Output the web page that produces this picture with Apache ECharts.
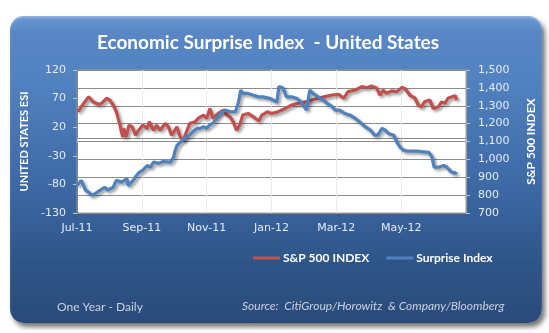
<!DOCTYPE html>
<html><head><meta charset="utf-8">
<script src="https://cdn.jsdelivr.net/npm/echarts@6/dist/echarts.min.js"></script>
<style>
html,body{margin:0;padding:0;background:#fff;}
#wrap{position:relative;width:549px;height:333px;overflow:hidden;background:#fff;}
#panel{position:absolute;left:10px;top:16px;width:532px;height:307px;border-radius:14px;
background:linear-gradient(to bottom,#6b98d1 0%,#5987c5 5%,#5282c0 20%,#4674b1 40%,#3a65a0 60%,#2f5588 80%,#2a4b7a 100%);
box-shadow:3px 4px 5px rgba(0,0,0,0.55), inset 0 2px 2px rgba(255,255,255,0.25);}
#chart{position:absolute;left:0;top:0;width:549px;height:333px;}
</style></head><body>
<div id="wrap"><div id="panel"></div><div id="chart"></div></div>
<script>
const startDate = '2011-07-01';
const monthLabels = ['Jul-11','Sep-11','Nov-11','Jan-12','Mar-12','May-12',''];

const spxDates = ['2011-07-02','2011-07-05','2011-07-12','2011-07-16','2011-07-21','2011-07-24','2011-07-29','2011-08-01','2011-08-04','2011-08-07',
'2011-08-10','2011-08-13','2011-08-14','2011-08-16','2011-08-19','2011-08-22','2011-08-25','2011-08-28','2011-09-01','2011-09-05',
'2011-09-07','2011-09-11','2011-09-14','2011-09-17','2011-09-22','2011-09-25','2011-09-28','2011-10-01','2011-10-03','2011-10-06',
'2011-10-09','2011-10-12','2011-10-15','2011-10-20','2011-10-23','2011-10-28','2011-10-31','2011-11-03','2011-11-06','2011-11-09',
'2011-11-13','2011-11-16','2011-11-19','2011-11-22','2011-11-25','2011-11-28','2011-12-01','2011-12-04','2011-12-09','2011-12-14',
'2011-12-19','2011-12-22','2011-12-27','2011-12-31','2012-01-06','2012-01-13','2012-01-19','2012-01-25','2012-02-01','2012-02-07',
'2012-02-13','2012-02-19','2012-02-26','2012-03-03','2012-03-08','2012-03-12','2012-03-19','2012-03-25','2012-03-30','2012-04-03',
'2012-04-08','2012-04-11','2012-04-14','2012-04-17','2012-04-22','2012-04-27','2012-05-02','2012-05-05','2012-05-09','2012-05-14',
'2012-05-17','2012-05-20','2012-05-23','2012-05-28','2012-05-31','2012-06-05','2012-06-08','2012-06-11','2012-06-14','2012-06-18',
'2012-06-21','2012-06-22'];
const spxValues = [1266,1294,1350,1322,1308,1313,1342,1332,1304,1266,
1201,1126,1173,1126,1192,1182,1135,1163,1192,1173,
1210,1163,1192,1163,1201,1182,1135,1163,1182,1126,
1107,1154,1201,1210,1229,1248,1229,1285,1229,1248,
1266,1276,1248,1238,1210,1163,1192,1248,1257,1238,
1214,1248,1266,1257,1266,1285,1304,1313,1322,1332,
1342,1351,1360,1364,1342,1379,1388,1407,1401,1411,
1398,1360,1388,1370,1383,1379,1403,1394,1360,1342,
1304,1294,1322,1332,1285,1294,1322,1313,1342,1351,
1356,1332];

const esiDates = ['2011-07-01','2011-07-05','2011-07-09','2011-07-12','2011-07-15','2011-07-18','2011-07-23','2011-07-27','2011-07-30','2011-08-04',
'2011-08-07','2011-08-12','2011-08-17','2011-08-18','2011-08-23','2011-08-26','2011-08-29','2011-09-01','2011-09-05','2011-09-08',
'2011-09-11','2011-09-16','2011-09-20','2011-09-27','2011-09-30','2011-10-01','2011-10-03','2011-10-08','2011-10-12','2011-10-15',
'2011-10-18','2011-10-22','2011-10-25','2011-10-28','2011-10-31','2011-11-03','2011-11-06','2011-11-09','2011-11-13','2011-11-17',
'2011-11-22','2011-11-27','2011-11-30','2011-12-02','2011-12-04','2011-12-09','2011-12-14','2011-12-19','2011-12-23','2011-12-30',
'2012-01-05','2012-01-07','2012-01-11','2012-01-14','2012-01-19','2012-01-24','2012-01-28','2012-02-02','2012-02-05','2012-02-08',
'2012-02-13','2012-02-18','2012-02-21','2012-02-26','2012-02-29','2012-03-04','2012-03-09','2012-03-14','2012-03-19','2012-03-23',
'2012-03-28','2012-04-02','2012-04-06','2012-04-09','2012-04-13','2012-04-16','2012-04-19','2012-04-24','2012-04-27','2012-04-30',
'2012-05-03','2012-05-08','2012-05-12','2012-05-17','2012-05-22','2012-05-27','2012-05-30','2012-06-01','2012-06-05','2012-06-10',
'2012-06-13','2012-06-17','2012-06-21','2012-06-22'];
const esiValues = [-82,-73,-90,-94,-99,-96,-90,-85,-90,-85,
-73,-76,-70,-82,-73,-64,-58,-55,-47,-50,
-41,-43,-40,-41,-32,-23,-12,-3,3,6,
12,18,18,21,18,24,27,35,44,50,
47,47,64,85,79,79,76,73,73,70,
64,91,88,73,73,70,64,50,85,79,
73,67,62,56,50,50,44,41,35,29,
21,15,6,6,18,15,9,6,-6,-15,
-20,-22,-22,-22,-23,-24,-32,-50,-50,-47,
-50,-58,-61,-58];

const DAY = 86400000;
const t0 = Date.parse(startDate + 'T00:00:00Z');
const dayOf = d => Math.round((Date.parse(d + 'T00:00:00Z') - t0) / DAY);
const spxData = spxDates.map((d, i) => [dayOf(d), spxValues[i]]);
const esiData = esiDates.map((d, i) => [dayOf(d), esiValues[i]]);

const labelColor = '#e4ebf5';
const chart = echarts.init(document.getElementById('chart'), null, {renderer: 'canvas'});
chart.setOption({
  animation: false,
  backgroundColor: 'transparent',
  title: {
    text: 'Economic Surprise Index  - United States',
    left: 263, textAlign: 'center', top: 28,
    textStyle: {color: '#ffffff', fontFamily: 'Lato', fontWeight: 'bold', fontSize: 19}
  },
  legend: {
    left: 248, top: 247,
    itemWidth: 27, itemHeight: 3, itemGap: 17,
    icon: 'rect',
    data: ['S&P 500 INDEX', 'Surprise Index'],
    textStyle: {color: '#ffffff', fontFamily: 'Lato', fontWeight: 'bold', fontSize: 12, padding: [0, 0, 0, -2]}
  },
  grid: {
    left: 77, right: 83, top: 70, bottom: 120,
    show: true, backgroundColor: '#ffffff', borderColor: '#9a9a9a', borderWidth: 1
  },
  xAxis: {
    type: 'value', min: 0, max: 366, interval: 61,
    axisLine: {show: true, lineStyle: {color: '#8a8a8a'}},
    axisTick: {show: true, length: 4, lineStyle: {color: '#b8c2d0'}},
    splitLine: {show: true, lineStyle: {color: '#ebebeb'}},
    axisLabel: {
      color: labelColor, fontFamily: 'DejaVu Sans', fontSize: 11, margin: 10,
      formatter: v => monthLabels[Math.round(v / 61)] || ''
    }
  },
  yAxis: [
    {
      type: 'value', position: 'left', min: -130, max: 120, interval: 50,
      name: 'UNITED STATES ESI', nameLocation: 'middle', nameGap: 47, nameRotate: 90,
      nameTextStyle: {color: '#ffffff', fontFamily: 'Lato', fontWeight: 'bold', fontSize: 11},
      axisLine: {show: true, lineStyle: {color: '#7f7f7f'}},
      axisTick: {show: true, length: 4, lineStyle: {color: '#b8c2d0'}},
      splitLine: {show: false},
      axisLabel: {color: labelColor, fontFamily: 'DejaVu Sans', fontSize: 11, margin: 11}
    },
    {
      type: 'value', position: 'right', min: 700, max: 1500, interval: 100,
      name: 'S&P 500 INDEX', nameLocation: 'middle', nameGap: 59, nameRotate: 90,
      nameTextStyle: {color: '#ffffff', fontFamily: 'Lato', fontWeight: 'bold', fontSize: 12},
      axisLine: {show: true, lineStyle: {color: '#9a9a9a'}},
      axisTick: {show: true, length: 4, lineStyle: {color: '#b8c2d0'}},
      splitLine: {show: true, lineStyle: {color: '#8c8c8c', width: 1}},
      axisLabel: {
        color: labelColor, fontFamily: 'DejaVu Sans', fontSize: 11, margin: 12,
        formatter: v => v.toLocaleString('en-US')
      }
    }
  ],
  series: [
    {
      name: 'S&P 500 INDEX', type: 'line', yAxisIndex: 1, data: spxData,
      showSymbol: false, symbol: 'none',
      itemStyle: {color: '#c0504d'},
      lineStyle: {color: '#c0504d', width: 3.2, shadowColor: 'rgba(0,0,0,0.4)', shadowBlur: 3, shadowOffsetX: 2, shadowOffsetY: 2}
    },
    {
      name: 'Surprise Index', type: 'line', yAxisIndex: 0, data: esiData,
      showSymbol: false, symbol: 'none',
      itemStyle: {color: '#4f81bd'},
      lineStyle: {color: '#4f81bd', width: 3.2, shadowColor: 'rgba(0,0,0,0.4)', shadowBlur: 3, shadowOffsetX: 2, shadowOffsetY: 2}
    }
  ],
  graphic: [
    {type: 'text', left: 57, top: 301, style: {text: 'One Year - Daily', fill: '#c8d1de', font: '12px Lato'}},
    {type: 'text', left: 242, top: 300, style: {text: 'Source:  CitiGroup/Horowitz  & Company/Bloomberg', fill: '#c8d1de', font: 'italic 12px Lato'}}
  ]
});
</script></body></html>
